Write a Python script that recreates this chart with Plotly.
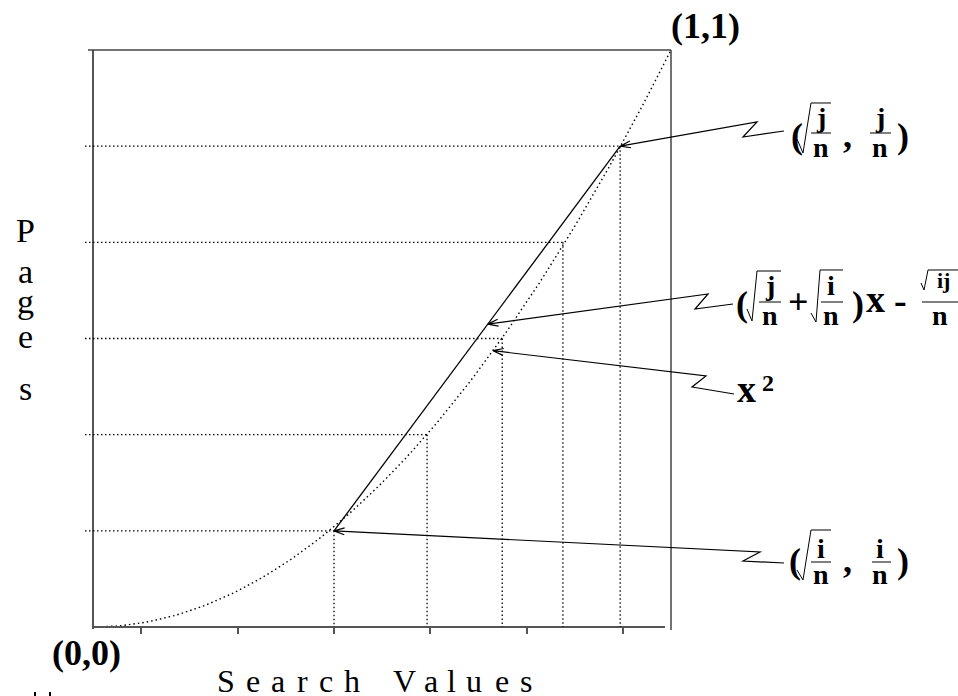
import math
import plotly.graph_objects as go

# ---- data -------------------------------------------------------------
# page boundaries (fraction of all pages, n = 6) and the search values
# at which each boundary is reached
page_vals = [1 / 6, 2 / 6, 3 / 6, 4 / 6, 5 / 6]
search_vals = [0.417, 0.578, 0.708, 0.813, 0.912]
tick_vals = [1 / 12, 3 / 12, 5 / 12, 7 / 12, 9 / 12, 11 / 12]
i_idx, j_idx = 0, 4            # the two boundaries joined by the secant
line_pick = 0.683              # where the secant label points
curve_pick = 0.692             # where the x^2 label points

# the distribution curve, y = x^2
curve_x = [k / 100 for k in range(101)]
curve_y = [x ** 2 for x in curve_x]

# ---- geometry helpers ---------------------------------------------------
W, H = 958, 696
L, R, T, B = 93, 671, 50, 627          # plot area in pixels
FONT = "Liberation Serif"


def to_paper(X, Y):
    return (X - L) / (R - L), (B - Y) / (B - T)


def to_px(x, y):
    return L + x * (R - L), B - y * (B - T)


shapes = []
annotations = []


def seg(p0, p1, color="black", width=1.2, dash="solid"):
    x0, y0 = to_paper(*p0)
    x1, y1 = to_paper(*p1)
    shapes.append(dict(type="line", xref="paper", yref="paper",
                       x0=x0, y0=y0, x1=x1, y1=y1,
                       line=dict(color=color, width=width, dash=dash)))


def poly(pts, width=1.2, head=False):
    d = "M " + " L ".join("{:.5f},{:.5f}".format(*to_paper(*p)) for p in pts)
    if head:
        (x1, y1), (x2, y2) = pts[-2], pts[-1]
        ang = math.atan2(y1 - y2, x1 - x2)
        for s in (0.32, -0.32):
            hx = x2 + 11 * math.cos(ang + s)
            hy = y2 + 11 * math.sin(ang + s)
            d += " M {:.5f},{:.5f} L {:.5f},{:.5f}".format(*to_paper(x2, y2), *to_paper(hx, hy))
    shapes.append(dict(type="path", xref="paper", yref="paper", path=d,
                       line=dict(color="black", width=width)))


def txt(X, base, s, size, bold=True):
    x, y = to_paper(X, base - 0.34 * size)
    annotations.append(dict(x=x, y=y, xref="paper", yref="paper", text=s,
                            showarrow=False, xanchor="center", yanchor="middle",
                            font=dict(family=FONT, size=size, color="black",
                                      weight="bold" if bold else "normal")))


# ---- frame ------------------------------------------------------------
seg((93, 50), (93, 629), color="#555", width=2)       # left
seg((92, 627), (665, 627), color="#555", width=2)     # bottom
seg((88, 50), (671, 50), color="#444", width=1.5)     # top
seg((671, 50), (671, 630), color="#444", width=1.5)   # right

# ---- guide lines to each page boundary ------------------------------------
for sx, py in zip(search_vals, page_vals):
    X, Y = to_px(sx, py)
    seg((85, Y), (X, Y), width=1.3, dash="1.5px,2.5px")
    seg((X, Y), (X, B), width=1.3, dash="1.5px,2.5px")

# ---- arrows ----------------------------------------------------------
tip_j = to_px(search_vals[j_idx], page_vals[j_idx])
tip_i = to_px(search_vals[i_idx], page_vals[i_idx])
xi, yi = search_vals[i_idx], page_vals[i_idx]
xj, yj = search_vals[j_idx], page_vals[j_idx]
tip_line = to_px(line_pick, yi + (yj - yi) * (line_pick - xi) / (xj - xi))
tip_curve = to_px(curve_pick, curve_pick ** 2)

poly([(784, 131), (743, 137), (757, 122), tip_j], head=True)
poly([(733, 304), (695, 309), (708, 294), tip_line], head=True)
poly([(734, 394), (692, 387), (706, 376), tip_curve], head=True)
poly([(784, 563), (743, 561), (760, 552), tip_i], head=True)

# ---- corner labels ----------------------------------------------------
txt(705, 38, "(1,1)", 36)
txt(86, 665, "(0,0)", 36)

# ---- (sqrt(j/n), j/n) -------------------------------------------------
txt(797, 148, "(", 36)
poly([(797, 139), (803, 153), (811, 103), (831, 103)], width=1)
txt(821, 127, "j", 28)
seg((811, 133), (831, 133), width=1)
txt(821, 157, "n", 28)
txt(847, 147, ",", 36)
txt(880, 127, "j", 28)
seg((870, 133), (891, 133), width=1)
txt(880, 157, "n", 28)
txt(903, 148, ")", 36)

# ---- (sqrt(j/n) + sqrt(i/n)) x - sqrt(ij)/n -------------------------------
txt(742, 316, "(", 36)
poly([(747, 309), (752, 321), (757, 271), (781, 271)], width=1)
txt(770, 295, "j", 28)
seg((759, 302), (781, 302), width=1)
txt(770, 325, "n", 28)
txt(798, 314, "+", 36)
poly([(811, 313), (816, 322), (820, 270), (843, 270)], width=1)
txt(831, 295, "i", 28)
seg((821, 302), (843, 302), width=1)
txt(831, 325, "n", 28)
txt(858, 316, ")", 36)
txt(875, 312, "x", 38)
txt(900, 313, "-", 38)
poly([(921, 283), (924, 290), (928, 270), (958, 270)], width=1)
txt(943, 288, "ij", 22)
seg((922, 302), (958, 302), width=1)
txt(940, 325, "n", 28)

# ---- x^2 ----------------------------------------------------------------
txt(746, 402, "x", 38)
txt(768, 391, "2", 24)

# ---- (sqrt(i/n), i/n) -------------------------------------------------
txt(795, 573, "(", 36)
poly([(797, 570), (803, 580), (811, 530), (831, 530)], width=1)
txt(821, 558, "i", 28)
seg((811, 562), (831, 562), width=1)
txt(821, 584, "n", 28)
txt(847, 572, ",", 36)
txt(880, 558, "i", 28)
seg((872, 562), (891, 562), width=1)
txt(880, 584, "n", 28)
txt(903, 573, ")", 36)

# ---- axis titles (letter-spaced) ----------------------------------------
for ch, X in zip("SearchValues", [226, 253, 278, 302, 326, 352, 404, 431, 451, 474, 502, 526]):
    txt(X, 692, ch, 32, bold=False)
for ch, base in zip("Pages", [242, 283, 313, 348, 400]):
    txt(25, base, ch, 34, bold=False)

# small marks at the lower-left edge
for X in (35, 50):
    x0, y0 = to_paper(X - 1, 696)
    x1, y1 = to_paper(X + 1, 692)
    shapes.append(dict(type="rect", xref="paper", yref="paper",
                       x0=x0, y0=y0, x1=x1, y1=y1,
                       line=dict(width=0), fillcolor="black"))

# ---- figure ------------------------------------------------------------
fig = go.Figure()
fig.add_trace(go.Scatter(x=curve_x, y=curve_y, mode="lines",
                         line=dict(color="black", width=1.4, dash="1.5px,3px"),
                         hoverinfo="skip", showlegend=False))
fig.add_trace(go.Scatter(x=[xi, xj], y=[yi, yj], mode="lines",
                         line=dict(color="black", width=1.3),
                         hoverinfo="skip", showlegend=False))

fig.update_layout(
    width=W, height=H,
    margin=dict(l=L, r=W - R, t=T, b=H - B, pad=0),
    paper_bgcolor="white", plot_bgcolor="white",
    shapes=shapes, annotations=annotations,
    showlegend=False,
    xaxis=dict(range=[0, 1], showgrid=False, zeroline=False, showline=False,
               ticks="outside", tickvals=tick_vals, ticklen=6, tickwidth=1.5,
               tickcolor="#555", showticklabels=False, fixedrange=True),
    yaxis=dict(range=[0, 1], showgrid=False, zeroline=False, showline=False,
               ticks="", showticklabels=False, fixedrange=True),
)

fig.write_html("out.html")
